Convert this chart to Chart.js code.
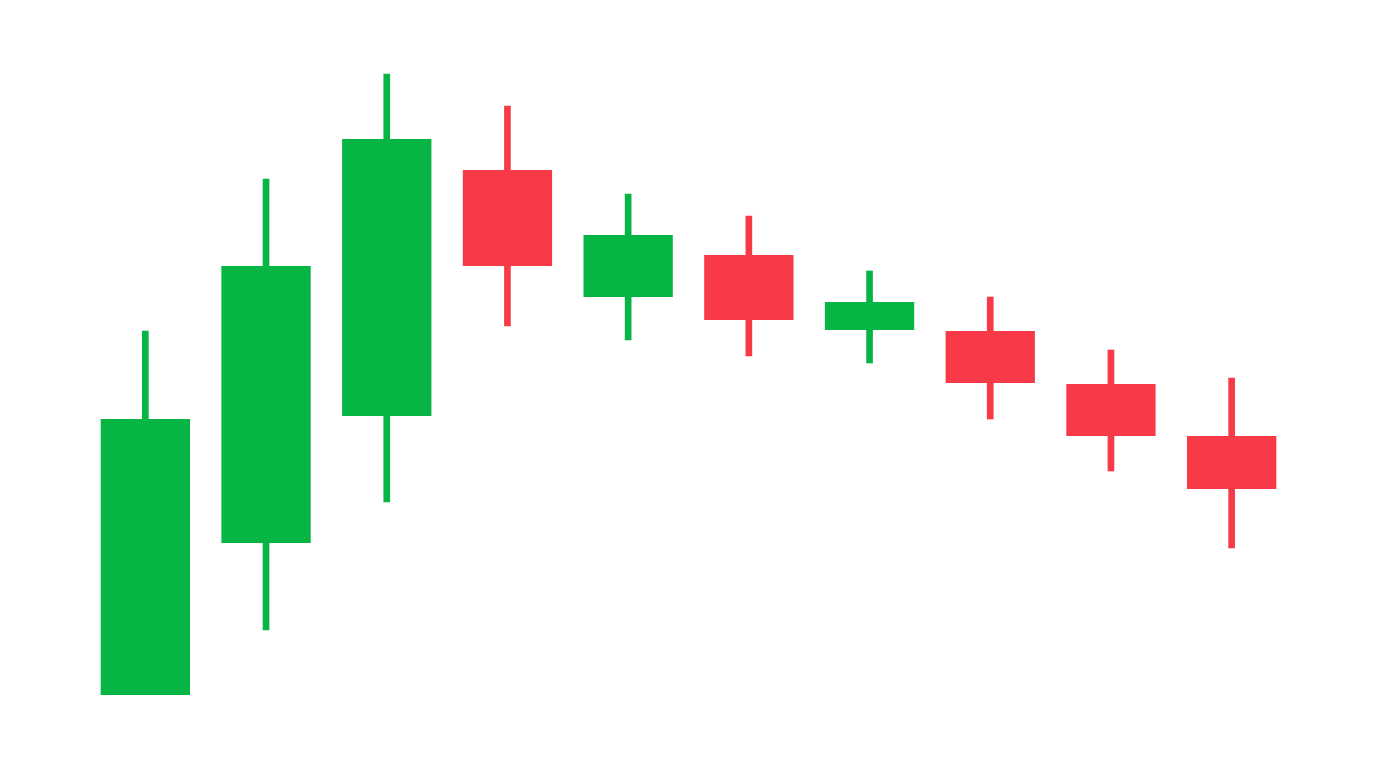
<!DOCTYPE html>
<html>
<head>
<meta charset="utf-8">
<script src="https://cdn.jsdelivr.net/npm/chart.js@4"></script>
<style>
html,body{margin:0;padding:0;background:#fff;}
#wrap{width:1376px;height:768px;position:relative;}
</style>
</head>
<body>
<div id="wrap"><canvas id="c"></canvas></div>
<script>
const categories = ['1','2','3','4','5','6','7','8','9','10'];
const openVals  = [18.25, 56.25, 88.0, 149.5, 117.75, 128.25, 109.5, 109.25, 96.0, 83.0];
const closeVals = [87.25, 125.5, 157.25, 125.5, 133.25, 112.0, 116.5, 96.25, 83.0, 69.75];
const highVals  = [109.25, 147.25, 173.5, 165.5, 143.5, 138.0, 124.25, 117.75, 104.5, 97.5];
const lowVals   = [18.5, 34.5, 66.5, 110.5, 107.0, 103.0, 101.25, 87.25, 74.25, 55.0];

const UP = '#07b544';
const DOWN = '#f83a48';
const colors = categories.map((_, i) => closeVals[i] >= openVals[i] ? UP : DOWN);

new Chart(document.getElementById('c'), {
  type: 'bar',
  data: {
    labels: categories,
    datasets: [
      {
        label: 'wick',
        data: categories.map((_, i) => [lowVals[i], highVals[i]]),
        backgroundColor: colors,
        borderWidth: 0,
        barThickness: 6,
        grouped: false,
        order: 2
      },
      {
        label: 'body',
        data: categories.map((_, i) => [openVals[i], closeVals[i]]),
        backgroundColor: colors,
        borderWidth: 0,
        barPercentage: 0.74,
        categoryPercentage: 1.0,
        grouped: false,
        order: 1
      }
    ]
  },
  options: {
    responsive: true,
    maintainAspectRatio: false,
    animation: false,
    layout: { padding: { left: 85, right: 84, top: 0, bottom: 0 } },
    plugins: { legend: { display: false }, tooltip: { enabled: false } },
    scales: {
      x: { display: false, offset: true },
      y: { display: false, min: 0, max: 192 }
    }
  }
});
</script>
</body>
</html>
